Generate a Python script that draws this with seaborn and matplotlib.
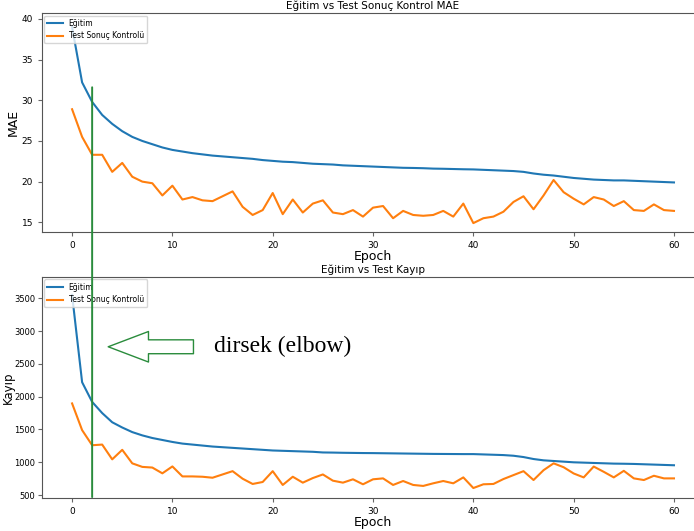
import numpy as np
import pandas as pd
import matplotlib
matplotlib.use("Agg")
import matplotlib.pyplot as plt
import seaborn as sns
from matplotlib.patches import ConnectionPatch

# Values
epochs = list(range(61))

train_mae = [39.0, 32.2, 29.8, 28.2, 27.1, 26.2, 25.5, 25.0, 24.6, 24.2,
             23.9, 23.7, 23.5, 23.35, 23.2, 23.1, 23.0, 22.9, 22.8, 22.65,
             22.55, 22.45, 22.4, 22.3, 22.2, 22.15, 22.1, 22.0, 21.95, 21.9,
             21.85, 21.8, 21.75, 21.7, 21.68, 21.65, 21.6, 21.58, 21.55, 21.52,
             21.5, 21.45, 21.4, 21.35, 21.3, 21.2, 21.0, 20.85, 20.75, 20.6,
             20.45, 20.35, 20.25, 20.2, 20.15, 20.15, 20.1, 20.05, 20.0, 19.95, 19.9]
test_mae = [28.9, 25.5, 23.3, 23.3, 21.2, 22.3, 20.6, 20.0, 19.8, 18.3,
            19.5, 17.8, 18.1, 17.7, 17.6, 18.2, 18.8, 16.9, 15.9, 16.5,
            18.6, 16.0, 17.8, 16.2, 17.3, 17.7, 16.2, 16.0, 16.5, 15.7,
            16.8, 17.0, 15.5, 16.4, 15.9, 15.8, 15.9, 16.4, 15.7, 17.3,
            14.9, 15.5, 15.7, 16.3, 17.5, 18.2, 16.6, 18.3, 20.2, 18.7,
            17.9, 17.2, 18.1, 17.8, 17.0, 17.6, 16.5, 16.4, 17.2, 16.5, 16.4]

train_loss = [3550, 2220, 1920, 1750, 1610, 1530, 1460, 1410, 1370, 1340,
              1310, 1285, 1270, 1255, 1240, 1230, 1220, 1210, 1200, 1190,
              1180, 1175, 1170, 1165, 1160, 1150, 1148, 1145, 1143, 1141,
              1140, 1138, 1136, 1134, 1132, 1130, 1128, 1127, 1126, 1125,
              1125, 1120, 1115, 1110, 1100, 1080, 1050, 1030, 1020, 1010,
              1000, 995, 990, 985, 980, 978, 975, 970, 965, 960, 955]
test_loss = [1897, 1490, 1260, 1270, 1045, 1190, 984, 930, 920, 832,
             937, 785, 785, 780, 765, 815, 865, 750, 670, 700,
             865, 655, 780, 690, 760, 815, 720, 690, 741, 665,
             741, 755, 655, 715, 655, 640, 680, 715, 680, 770,
             608, 665, 670, 745, 805, 865, 730, 880, 984, 925,
             830, 770, 935, 855, 770, 870, 755, 730, 795, 755, 755]

labels = ["Eğitim", "Test Sonuç Kontrolü"]
colors = ["#1f77b4", "#ff7f0e"]


def long_table(a, b):
    return pd.DataFrame({
        "Epoch": epochs + epochs,
        "value": a + b,
        "seri": [labels[0]] * len(a) + [labels[1]] * len(b),
    })


fig = plt.figure(figsize=(6.94, 5.31), dpi=100)
ax1 = fig.add_axes([0.0605, 0.563, 0.954, 0.412])
ax2 = fig.add_axes([0.0605, 0.062, 0.954, 0.416])

sns.lineplot(data=long_table(train_mae, test_mae), x="Epoch", y="value",
             hue="seri", palette=colors, ax=ax1, linewidth=1.5)
sns.lineplot(data=long_table(train_loss, test_loss), x="Epoch", y="value",
             hue="seri", palette=colors, ax=ax2, linewidth=1.5)

for ax, title, ylab in [(ax1, "Eğitim vs Test Sonuç Kontrol MAE", "MAE"),
                        (ax2, "Eğitim vs Test Kayıp", "Kayıp")]:
    ax.set_title(title, fontsize=7.5, pad=3)
    ax.set_xlabel("Epoch", fontsize=9, labelpad=0)
    ax.set_ylabel(ylab, fontsize=9, labelpad=1)
    ax.set_xlim(-3, 63)
    ax.set_xticks(range(0, 61, 10))
    ax.tick_params(labelsize=6.5, length=3, color="#666666")
    for s in ax.spines.values():
        s.set_color("#555555")
    ax.legend(loc="upper left", fontsize=5.5, frameon=True, borderaxespad=0.3,
              handlelength=2.0)

ax1.set_ylim(13.8, 40.7)
ax1.set_yticks(range(15, 41, 5))
ax2.set_ylim(455, 3820)
ax2.set_yticks(range(500, 3501, 500))
ax2.tick_params(axis="y", labelsize=6, pad=2)
ax2.yaxis.label.set_fontsize(8.5)
ax2.yaxis.set_label_coords(-0.041, 0.5)

# elbow marker: vertical line at epoch 2 through both panels
elbow = 2
green = "#2a8c3c"
con = ConnectionPatch(xyA=(elbow, 31.6), coordsA=ax1.transData,
                      xyB=(elbow, 470), coordsB=ax2.transData,
                      color=green, linewidth=1.4)
fig.add_artist(con)

ax2.annotate("", xy=(3.6, 2760), xytext=(12.1, 2760),
             arrowprops=dict(arrowstyle="simple,head_length=2.9,head_width=2.2,tail_width=1.0",
                             fc="white", ec=green, lw=1.0, shrinkA=0, shrinkB=0))
ax2.text(14.1, 2770, "dirsek (elbow)", fontsize=17, family="Liberation Serif",
         va="center", ha="left", color="black")

fig.savefig("out.png", dpi=100)
